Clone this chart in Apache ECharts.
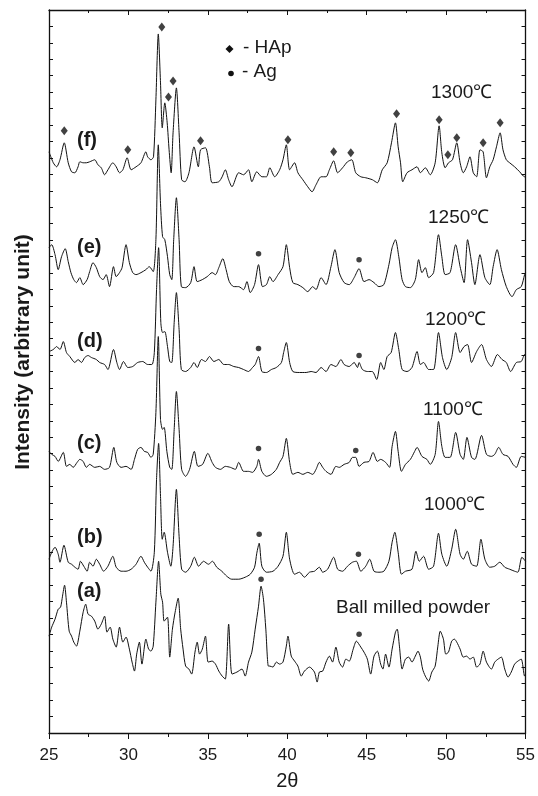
<!DOCTYPE html>
<html><head><meta charset="utf-8">
<script src="https://cdn.jsdelivr.net/npm/echarts@6/dist/echarts.min.js"></script>
<style>html,body{margin:0;padding:0;background:#fff}#c{width:538px;height:796px}</style>
</head><body><div id="c"></div>
<script>
// 2theta tick values
const xTicks = [25, 30, 35, 40, 45, 50, 55];

// XRD patterns, [2theta, intensity (arbitrary unit, offset stacked)]
const traceA = [[25.00,97],[25.17,106],[25.38,114],[25.58,124],[25.73,126],[25.85,137],[25.98,148],[26.10,131],[26.27,102],[26.42,97],[26.56,91],[26.73,87],[26.94,102],[27.15,121],[27.31,129],[27.46,119],[27.67,117],[27.88,112],[28.08,104],[28.29,109],[28.50,117],[28.65,101],[28.85,106],[29.02,94],[29.23,86],[29.44,106],[29.65,91],[29.85,96],[30.06,84],[30.23,71],[30.38,62],[30.52,79],[30.69,91],[30.85,69],[31.10,94],[31.27,84],[31.42,82],[31.56,87],[31.73,131],[31.90,172],[32.04,139],[32.15,131],[32.25,112],[32.46,116],[32.60,76],[32.77,104],[32.94,121],[33.13,135],[33.29,104],[33.44,84],[33.60,67],[33.81,64],[33.98,59],[34.19,81],[34.33,91],[34.48,79],[34.65,84],[34.85,97],[35.02,71],[35.27,72],[35.48,69],[35.69,62],[35.90,57],[36.10,54],[36.31,109],[36.52,59],[36.83,61],[37.15,64],[37.35,57],[37.56,71],[37.77,81],[37.98,104],[38.19,127],[38.35,147],[38.50,134],[38.65,104],[38.81,67],[38.90,67],[39.10,66],[39.31,71],[39.52,69],[39.73,71],[39.94,87],[40.04,97],[40.25,77],[40.46,72],[40.67,67],[40.88,57],[41.08,62],[41.40,66],[41.71,61],[41.88,51],[42.02,61],[42.23,62],[42.44,71],[42.65,77],[42.85,71],[43.06,86],[43.27,71],[43.48,66],[43.69,74],[43.90,72],[44.15,84],[44.35,92],[44.63,86],[44.83,81],[45.04,74],[45.25,59],[45.46,77],[45.67,82],[45.88,69],[46.02,64],[46.19,79],[46.40,66],[46.60,84],[46.81,101],[46.92,104],[47.06,87],[47.23,64],[47.44,74],[47.65,76],[47.85,71],[48.06,77],[48.23,82],[48.38,76],[48.52,64],[48.69,57],[48.90,52],[49.10,61],[49.31,67],[49.48,87],[49.63,102],[49.83,94],[49.98,79],[50.15,81],[50.35,92],[50.52,94],[50.67,91],[50.88,84],[51.08,76],[51.29,77],[51.50,74],[51.71,76],[51.92,66],[52.13,69],[52.33,82],[52.54,71],[52.85,64],[53.06,71],[53.27,74],[53.48,76],[53.69,64],[53.90,56],[54.10,61],[54.31,69],[54.52,72],[54.73,74],[54.94,57],[55.00,59]];
const traceB = [[25.00,174],[25.17,181],[25.38,186],[25.58,179],[25.69,171],[25.94,188],[26.21,171],[26.42,169],[26.63,166],[26.83,164],[26.98,172],[27.19,167],[27.40,162],[27.56,171],[27.77,167],[27.98,174],[28.19,169],[28.44,162],[28.71,167],[29.02,177],[29.23,166],[29.54,162],[29.85,162],[30.17,164],[30.48,169],[30.79,177],[31.00,171],[31.21,166],[31.42,162],[31.63,181],[31.77,254],[31.90,290],[32.02,237],[32.13,194],[32.25,201],[32.46,181],[32.67,167],[32.81,187],[33.02,244],[33.19,197],[33.35,164],[33.60,161],[33.92,167],[34.15,176],[34.42,167],[34.73,172],[35.04,169],[35.29,172],[35.56,166],[35.88,162],[36.19,157],[36.50,154],[36.94,154],[37.35,156],[37.67,159],[37.94,166],[38.08,180],[38.23,190],[38.40,167],[38.69,161],[39.10,162],[39.42,167],[39.73,177],[39.94,201],[40.15,174],[40.46,159],[40.77,161],[41.08,156],[41.40,161],[41.71,162],[42.02,166],[42.23,161],[42.54,164],[42.92,176],[43.17,164],[43.48,162],[43.79,167],[44.10,171],[44.35,172],[44.63,162],[44.94,167],[45.19,174],[45.46,162],[45.77,161],[46.08,162],[46.40,172],[46.60,191],[46.77,201],[46.98,181],[47.19,159],[47.44,162],[47.85,164],[48.10,182],[48.31,172],[48.58,177],[48.90,164],[49.21,167],[49.52,200],[49.73,179],[50.04,167],[50.35,184],[50.60,204],[50.88,179],[51.08,174],[51.33,182],[51.60,169],[51.92,167],[52.19,194],[52.44,174],[52.75,166],[53.06,167],[53.38,171],[53.69,166],[54.00,164],[54.31,162],[54.52,161],[54.77,176],[55.00,172]];
const traceC = [[25.00,282],[25.17,279],[25.38,277],[25.58,272],[25.90,281],[26.10,267],[26.31,269],[26.52,266],[26.77,271],[26.94,274],[27.15,272],[27.35,266],[27.56,269],[27.88,266],[28.19,267],[28.50,264],[28.81,266],[29.08,286],[29.27,271],[29.54,266],[29.85,267],[30.17,264],[30.38,274],[30.58,284],[30.79,286],[31.00,282],[31.21,281],[31.42,276],[31.56,279],[31.73,321],[31.88,397],[32.02,314],[32.15,304],[32.25,306],[32.42,282],[32.60,266],[32.73,264],[32.88,304],[33.02,342],[33.19,304],[33.35,264],[33.60,257],[33.85,264],[34.15,282],[34.38,267],[34.67,269],[35.00,280],[35.27,271],[35.48,266],[35.79,264],[36.10,267],[36.42,266],[36.73,264],[36.94,271],[37.25,262],[37.56,262],[37.81,261],[38.08,267],[38.19,274],[38.40,262],[38.69,257],[39.00,259],[39.31,264],[39.52,271],[39.73,277],[39.94,295],[40.15,271],[40.35,259],[40.67,261],[40.98,259],[41.29,261],[41.60,259],[41.81,264],[42.02,271],[42.23,266],[42.44,262],[42.75,259],[43.06,267],[43.27,266],[43.58,269],[43.90,271],[44.10,276],[44.31,276],[44.52,267],[44.83,271],[45.15,272],[45.40,281],[45.67,272],[45.88,274],[46.19,271],[46.44,266],[46.60,287],[46.81,302],[46.98,282],[47.19,262],[47.44,269],[47.75,274],[48.02,282],[48.17,286],[48.48,277],[48.79,274],[49.00,269],[49.31,279],[49.52,312],[49.73,287],[49.94,276],[50.25,276],[50.60,301],[50.88,279],[51.08,274],[51.31,296],[51.60,276],[51.81,274],[52.23,298],[52.54,279],[52.85,277],[53.06,279],[53.31,286],[53.58,279],[53.90,277],[54.21,269],[54.42,266],[54.73,277],[55.00,276]];
const traceD = [[25.00,382],[25.27,384],[25.48,387],[25.69,384],[25.90,392],[26.10,381],[26.31,377],[26.63,371],[26.83,374],[27.04,371],[27.25,376],[27.46,378],[27.67,376],[27.98,374],[28.19,371],[28.50,369],[28.71,364],[29.06,384],[29.27,371],[29.44,364],[29.69,372],[29.96,366],[30.27,367],[30.58,371],[30.90,372],[31.21,369],[31.48,369],[31.63,381],[31.77,444],[31.90,486],[32.04,411],[32.15,401],[32.29,402],[32.46,387],[32.60,372],[32.73,371],[32.88,411],[33.02,441],[33.19,404],[33.33,364],[33.60,362],[33.92,366],[34.13,371],[34.33,366],[34.60,374],[34.85,372],[35.10,377],[35.38,372],[35.69,374],[36.00,369],[36.31,369],[36.63,367],[36.94,366],[37.25,364],[37.56,362],[37.81,366],[37.98,369],[38.19,377],[38.40,362],[38.69,361],[39.00,364],[39.31,366],[39.63,371],[39.77,381],[39.94,391],[40.15,371],[40.35,362],[40.77,361],[41.19,361],[41.50,362],[41.81,361],[42.13,366],[42.44,362],[42.75,369],[43.06,367],[43.38,374],[43.58,369],[43.90,367],[44.21,371],[44.42,366],[44.52,371],[44.73,364],[45.04,362],[45.35,362],[45.63,354],[45.88,371],[46.08,364],[46.29,377],[46.54,381],[46.81,401],[47.02,384],[47.23,364],[47.54,362],[47.85,366],[48.17,382],[48.38,369],[48.58,371],[48.90,364],[49.21,364],[49.52,401],[49.77,376],[50.04,364],[50.35,376],[50.60,401],[50.88,381],[51.13,387],[51.35,389],[51.60,371],[51.92,382],[52.23,389],[52.54,374],[52.85,367],[53.23,379],[53.52,374],[53.79,371],[54.06,362],[54.42,371],[54.73,372],[54.94,379],[55.00,377]];
const traceE = [[25.00,486],[25.17,489],[25.38,479],[25.58,464],[25.79,477],[26.02,485],[26.21,472],[26.38,461],[26.56,454],[26.73,451],[26.94,456],[27.15,449],[27.40,454],[27.56,462],[27.77,471],[27.98,466],[28.19,457],[28.40,454],[28.60,459],[28.81,447],[29.06,467],[29.23,457],[29.44,461],[29.60,466],[29.85,489],[30.06,471],[30.27,461],[30.48,459],[30.79,461],[31.10,464],[31.31,467],[31.56,462],[31.73,494],[31.88,589],[32.02,530],[32.15,497],[32.29,494],[32.46,477],[32.60,459],[32.73,454],[32.85,494],[33.02,536],[33.19,494],[33.33,447],[33.60,446],[33.92,451],[34.13,467],[34.33,452],[34.65,454],[34.96,457],[35.27,461],[35.48,459],[35.69,466],[35.94,475],[36.15,464],[36.35,452],[36.63,447],[36.94,447],[37.25,444],[37.46,452],[37.67,441],[37.94,449],[38.19,469],[38.44,447],[38.69,449],[38.90,457],[39.10,452],[39.42,459],[39.73,467],[39.94,489],[40.15,466],[40.35,451],[40.67,449],[40.98,446],[41.29,442],[41.60,447],[41.81,444],[42.13,456],[42.44,449],[42.75,467],[43.00,484],[43.27,461],[43.58,451],[43.90,449],[44.21,456],[44.52,465],[44.83,452],[45.15,454],[45.46,451],[45.77,447],[46.08,449],[46.40,469],[46.60,486],[46.81,494],[47.02,477],[47.23,454],[47.44,447],[47.75,446],[48.06,454],[48.27,474],[48.48,461],[48.69,466],[48.90,456],[49.21,461],[49.52,499],[49.73,477],[49.94,459],[50.25,461],[50.60,489],[50.88,467],[51.13,451],[51.35,494],[51.60,471],[51.81,449],[52.13,479],[52.44,456],[52.75,449],[52.96,467],[53.21,484],[53.48,464],[53.79,447],[54.15,437],[54.42,444],[54.73,447],[54.94,459],[55.00,461]];
const traceF = [[25.00,582],[25.27,571],[25.48,567],[25.69,574],[25.96,591],[26.21,571],[26.42,562],[26.63,561],[26.83,567],[26.94,572],[27.15,571],[27.35,571],[27.56,572],[27.88,574],[28.08,569],[28.29,566],[28.50,559],[28.71,564],[29.02,571],[29.23,567],[29.44,561],[29.65,564],[29.92,576],[30.17,564],[30.48,567],[30.79,571],[31.10,582],[31.21,577],[31.42,574],[31.58,577],[31.73,634],[31.88,700],[32.02,651],[32.13,606],[32.29,631],[32.44,611],[32.56,584],[32.69,561],[32.81,601],[33.02,646],[33.19,601],[33.35,554],[33.56,552],[33.81,561],[34.13,587],[34.40,567],[34.54,584],[34.85,586],[35.10,567],[35.27,551],[35.69,552],[35.90,557],[36.10,564],[36.31,554],[36.52,547],[36.94,561],[37.25,559],[37.56,564],[37.77,552],[38.08,562],[38.40,557],[38.69,557],[38.90,566],[39.21,557],[39.52,564],[39.73,574],[39.94,589],[40.15,564],[40.46,571],[40.67,561],[40.98,554],[41.29,547],[41.56,542],[41.81,549],[42.13,557],[42.44,557],[42.65,564],[42.92,573],[43.17,561],[43.48,566],[43.79,572],[44.06,574],[44.31,561],[44.63,557],[44.94,556],[45.36,554],[45.67,551],[45.98,564],[46.29,571],[46.56,591],[46.81,611],[46.98,587],[47.13,571],[47.27,552],[47.54,561],[47.85,564],[48.17,567],[48.38,561],[48.69,566],[49.00,559],[49.31,571],[49.56,608],[49.73,581],[49.94,566],[50.15,571],[50.40,574],[50.67,591],[50.88,571],[51.08,561],[51.29,567],[51.50,577],[51.71,561],[51.92,557],[52.13,584],[52.33,582],[52.54,556],[52.75,567],[52.96,574],[53.17,587],[53.40,601],[53.58,584],[53.79,574],[54.00,571],[54.31,567],[54.63,562],[54.94,557],[55.00,557]];

// Phase markers: [2theta, intensity]
const hapMarks = [[25.96,603],[29.96,584],[32.10,707],[32.52,637],[32.81,653],[34.54,593],[40.04,594],[42.92,582],[44.00,581],[46.88,620],[49.56,614],[50.11,579],[50.67,596],[52.33,591],[53.40,611]];
const agMarks = [[38.19,480],[44.52,474],[38.19,385],[44.52,378],[38.19,285],[44.31,283],[38.23,199],[44.48,179],[38.35,154],[44.52,99]];

const sampleLabels = ['(a)', '(b)', '(c)', '(d)', '(e)', '(f)'];
const conditionLabels = ['Ball milled powder', '1000℃', '1100℃', '1200℃', '1250℃', '1300℃'];
const legendNames = ['- HAp', '- Ag'];
const yTitle = 'Intensity (arbitrary unit)';
const xTitle = '2θ';

const FONT = "'Liberation Sans', Arial, Helvetica, sans-serif";
const chart = echarts.init(document.getElementById('c'), null, {renderer: 'canvas'});
const traces = [traceA, traceB, traceC, traceD, traceE, traceF];

// label placement (pixels)
const sampleLabelY = [592, 538, 444, 342, 248, 141];
const condLabelPos = [[336, 608], [424, 505], [423, 410], [425, 320], [428, 218], [431, 93]];

const graphics = [];
sampleLabels.forEach((t, i) => graphics.push({
  type: 'text', left: 77, top: sampleLabelY[i] - 11,
  style: {text: t, font: 'bold 20px ' + FONT, fill: '#1a1a1a'}
}));
conditionLabels.forEach((t, i) => graphics.push({
  type: 'text', left: condLabelPos[i][0], top: condLabelPos[i][1] - 10,
  style: {text: t, font: '19px ' + FONT, fill: '#1a1a1a'}
}));
// legend
graphics.push({type: 'polygon', shape: {points: [[229.5, 45], [233.5, 49], [229.5, 53], [225.5, 49]]}, style: {fill: '#111'}});
graphics.push({type: 'circle', shape: {cx: 231, cy: 73.5, r: 2.8}, style: {fill: '#111'}});
graphics.push({type: 'text', left: 243, top: 38, style: {text: legendNames[0], font: '19px ' + FONT, fill: '#1a1a1a'}});
graphics.push({type: 'text', left: 242, top: 62, style: {text: legendNames[1], font: '19px ' + FONT, fill: '#1a1a1a'}});
graphics.push({type: 'text', x: 23, y: 352, rotation: Math.PI / 2,
  style: {text: yTitle, font: 'bold 21px ' + FONT, fill: '#1a1a1a', align: 'center', verticalAlign: 'middle'}});

const axisCommon = {
  type: 'value', min: xTicks[0], max: xTicks[xTicks.length - 1], interval: xTicks[1] - xTicks[0],
  splitLine: {show: false},
  axisLine: {show: true, onZero: false, lineStyle: {color: '#111', width: 1.3}},
  minorTick: {show: true, splitNumber: 2, length: 4, lineStyle: {color: '#111', width: 1}},
  minorSplitLine: {show: false}
};
const yMax = 724, ySteps = 44;
const yCommon = {
  type: 'value', min: 0, max: yMax, interval: yMax / ySteps,
  splitLine: {show: false}, axisLabel: {show: false},
  axisLine: {show: true, onZero: false, lineStyle: {color: '#111', width: 1.3}},
  axisTick: {show: true, inside: true, length: 4, lineStyle: {color: '#111', width: 1}}
};

const series = traces.map((d, i) => ({
  type: 'line', name: sampleLabels[i], data: d, showSymbol: false, symbol: 'none',
  smooth: 0.25,
  lineStyle: {color: '#111', width: 1}, silent: true, animation: false, z: 2
}));
series.push({type: 'scatter', name: legendNames[0], data: hapMarks, symbol: 'diamond', symbolSize: [7, 9],
  itemStyle: {color: '#111'}, animation: false, z: 3});
series.push({type: 'scatter', name: legendNames[1], data: agMarks, symbol: 'circle', symbolSize: 5.5,
  itemStyle: {color: '#111'}, animation: false, z: 3});

chart.setOption({
  backgroundColor: '#fff',
  animation: false,
  grid: {left: 49, right: 9, top: 10, bottom: 62, containLabel: false},
  xAxis: [
    Object.assign({}, axisCommon, {
      position: 'bottom',
      axisTick: {show: true, inside: false, length: 6, lineStyle: {color: '#111', width: 1}},
      minorTick: {show: true, splitNumber: 2, length: 4, lineStyle: {color: '#111', width: 1}},
      axisLabel: {show: true, fontSize: 17, color: '#1a1a1a', fontFamily: FONT, margin: 14},
      name: xTitle, nameLocation: 'middle', nameGap: 38,
      nameTextStyle: {fontSize: 20, color: '#1a1a1a', fontFamily: FONT}
    }),
    Object.assign({}, axisCommon, {
      position: 'top',
      axisTick: {show: true, inside: true, length: 5, lineStyle: {color: '#111', width: 1}},
      minorTick: {show: true, splitNumber: 2, length: 3, lineStyle: {color: '#111', width: 1}},
      axisLabel: {show: false}
    })
  ],
  yAxis: [
    Object.assign({}, yCommon, {position: 'left'}),
    Object.assign({}, yCommon, {position: 'right'})
  ],
  series: series,
  graphic: graphics
});
</script>
</body></html>
